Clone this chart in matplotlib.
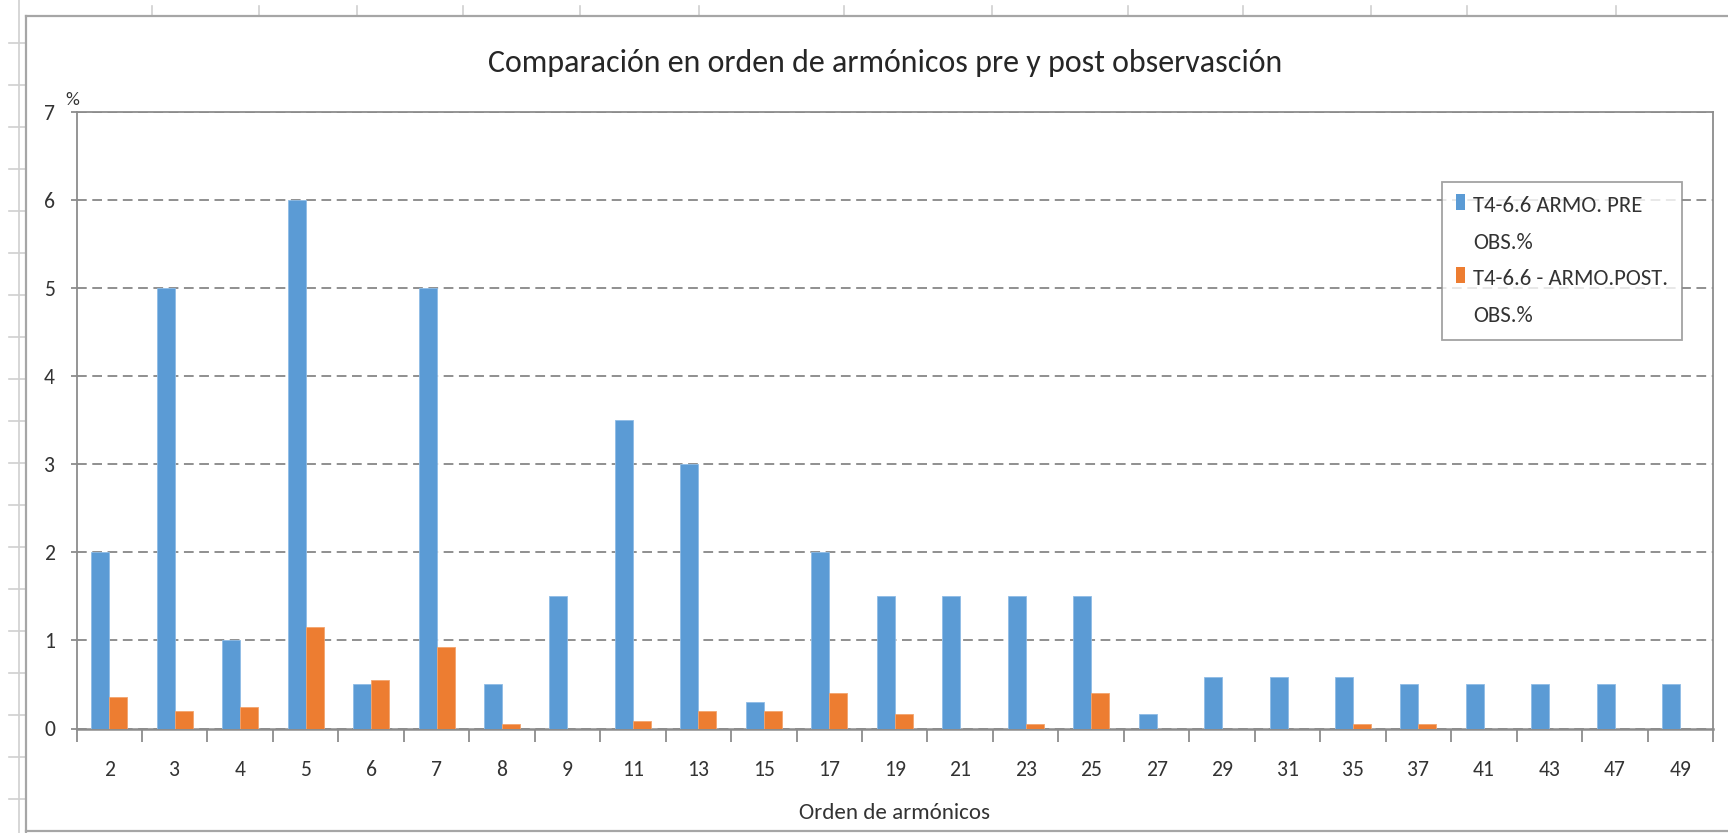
import matplotlib
matplotlib.use("Agg")
import matplotlib.pyplot as plt
from matplotlib import font_manager as fm
from matplotlib.font_manager import FontProperties
from matplotlib.textpath import TextPath
from matplotlib.lines import Line2D
from matplotlib.patches import Patch, Rectangle
from matplotlib.legend_handler import HandlerPatch
import numpy as np

# ---------------- data ----------------
categories = ["2", "3", "4", "5", "6", "7", "8", "9", "11", "13", "15", "17", "19",
              "21", "23", "25", "27", "29", "31", "35", "37", "41", "43", "47", "49"]
pre_obs = [2.0, 5.0, 1.0, 6.0, 0.5, 5.0, 0.5, 1.5, 3.5, 3.0, 0.3, 2.0, 1.5,
           1.5, 1.5, 1.5, 0.17, 0.58, 0.58, 0.58, 0.5, 0.5, 0.5, 0.5, 0.5]
post_obs = [0.36, 0.2, 0.24, 1.15, 0.55, 0.93, 0.05, 0.0, 0.08, 0.2, 0.2, 0.4, 0.17,
            0.0, 0.05, 0.4, 0.0, 0.0, 0.0, 0.05, 0.05, 0.0, 0.0, 0.0, 0.0]
series_names = ["T4-6.6 ARMO. PRE\nOBS.%", "T4-6.6 - ARMO.POST.\nOBS.%"]
title = "Comparación en orden de armónicos pre y post observasción"
xlabel = "Orden de armónicos"
ylabel = "%"
yticks = [0, 1, 2, 3, 4, 5, 6, 7]

# ---------------- fonts ----------------
avail = {f.name for f in fm.fontManager.ttflist}
if "Carlito" in avail:
    FONT = "Carlito"
    FS = dict(title=23.0, tick=15.6, xlabel=16.6, legend=16.4, pct=14.0)
elif "PT Sans Narrow" in avail:
    FONT = "PT Sans Narrow"
    FS = dict(title=27.7, tick=17.0, xlabel=18.5, legend=18.0, pct=14.0)
else:
    FONT = "DejaVu Sans"
    FS = dict(title=20.0, tick=13.0, xlabel=14.0, legend=13.0, pct=12.0)
plt.rcParams["font.family"] = [FONT, "DejaVu Sans"]
plt.rcParams["lines.scale_dashes"] = False

BLUE = "#5B9BD5"
ORANGE = "#ED7D31"
AXGRAY = "#8C8C8C"
TXT = "#333333"

W, H = 1728, 833
fig = plt.figure(figsize=(W / 100, H / 100), dpi=100)
fig.patch.set_facecolor("white")

def fx(px):
    return px / W

def fy(py):
    return 1 - py / H

# spreadsheet cell grid around the embedded chart
deco = "#D0D0D0"
fig.add_artist(Line2D([fx(19), fx(19)], [fy(0), fy(833)], color=deco, lw=1.2))
for yy in range(43, 833, 42):
    fig.add_artist(Line2D([fx(9), fx(26)], [fy(yy), fy(yy)], color=deco, lw=1.2))
for xx in [152, 259, 357, 463, 580, 699, 844, 992, 1128, 1243, 1371, 1467, 1616]:
    fig.add_artist(Line2D([fx(xx), fx(xx)], [fy(6), fy(16)], color=deco, lw=1.2))

# outer chart border
bcol = "#A6A6A6"
fig.add_artist(Line2D([fx(26), fx(26)], [fy(16), fy(832)], color=bcol, lw=1.6))
fig.add_artist(Line2D([fx(26), fx(1728)], [fy(16), fy(16)], color=bcol, lw=1.6))
fig.add_artist(Line2D([fx(26), fx(1728)], [fy(831), fy(831)], color=bcol, lw=1.6))

# ---------------- axes ----------------
left, right, top, bottom = 76.5, 1713, 112, 728.5
ax = fig.add_axes([fx(left), fy(bottom), fx(right) - fx(left), fy(top) - fy(bottom)])

x = np.arange(len(categories))
bw = 0.275
ax.bar(x - bw / 2, pre_obs, width=bw, color=BLUE, edgecolor="#8FBCE6", linewidth=0.6, zorder=3)
ax.bar(x + bw / 2, post_obs, width=bw, color=ORANGE, edgecolor="#F3A46E", linewidth=0.6, zorder=3)

ax.set_xlim(-0.5, len(categories) - 0.5)
ax.set_ylim(0, 7)
ax.set_yticks(yticks)
ax.set_yticklabels([str(v) for v in yticks])
ax.set_xticks(x)
ax.set_xticklabels(categories)
ax.set_xticks(np.arange(-0.5, len(categories)), minor=True)

for s in ax.spines.values():
    s.set_color(AXGRAY)
    s.set_linewidth(1.3)
ax.spines["bottom"].set_linewidth(1.8)

ax.tick_params(axis="x", which="major", length=0, pad=22.5, labelsize=FS["tick"], labelcolor=TXT)
ax.tick_params(axis="x", which="minor", length=9.5, width=1.3, color=AXGRAY, direction="out")
ax.tick_params(axis="y", which="major", length=4.5, width=1.3, color=AXGRAY, direction="out",
               pad=11, labelsize=FS["tick"], labelcolor=TXT)

ax.yaxis.grid(True, color="#8F8F8F", linestyle=(0, (7, 4)), linewidth=1.4, zorder=0)
ax.set_axisbelow(True)

ax.set_xlabel(xlabel, fontsize=FS["xlabel"], color=TXT, labelpad=17)
fig.text(fx(72), fy(100), ylabel, fontsize=FS["pct"], color=TXT, ha="center", va="center")
fig.text(fx(885), fy(63), title, fontsize=FS["title"], color="#262626", ha="center",
         va="center")

# legend: square marker aligned to the first line of each two-line label
LEG_FS = FS["legend"]
LS = 2.05
_fp = FontProperties(family=FONT)
LP_ASC = TextPath((0, 0), "lp", size=LEG_FS, prop=_fp).get_extents().y1
CAP = TextPath((0, 0), "T", size=LEG_FS, prop=_fp).get_extents().y1

class TopPatchHandler(HandlerPatch):
    def create_artists(self, legend, orig_handle, xdescent, ydescent, width, height,
                       fontsize, trans):
        first_mid = LS * LP_ASC + CAP / 2 - 6.7
        mh = 11.5
        r = Rectangle((-xdescent, first_mid - mh / 2), width, mh,
                      facecolor=orig_handle.get_facecolor(), edgecolor="none",
                      transform=trans)
        return [r]

handles = [Patch(facecolor=BLUE), Patch(facecolor=ORANGE)]
leg = ax.legend(handles, series_names, loc="upper left", bbox_to_anchor=(fx(1442), fy(182)),
                bbox_transform=fig.transFigure, frameon=True, fancybox=False,
                fontsize=LEG_FS, handlelength=6.5 / LEG_FS, handleheight=1.0,
                handletextpad=0.35, borderpad=0.62, labelspacing=0.71, borderaxespad=0,
                handler_map={Patch: TopPatchHandler()})
leg.get_frame().set_edgecolor(AXGRAY)
leg.get_frame().set_linewidth(1.3)
for t in leg.get_texts():
    t.set_color(TXT)
    t.set_linespacing(LS)

fig.savefig("out.png", dpi=100, facecolor="white")
